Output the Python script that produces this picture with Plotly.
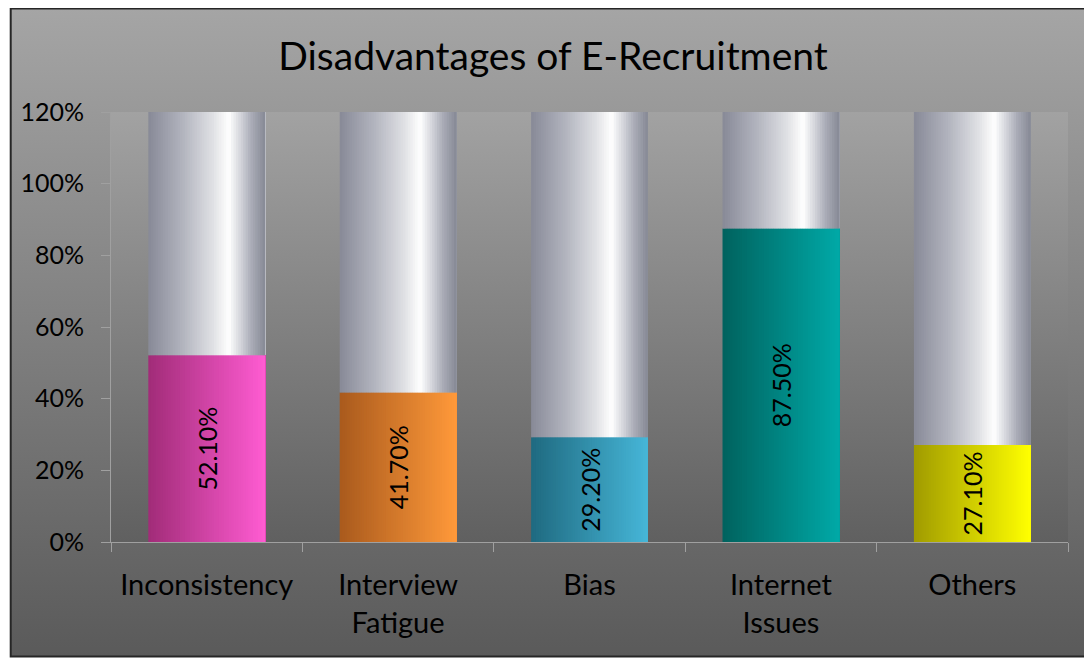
import base64
import plotly.graph_objects as go

# data
categories = ["Inconsistency", "Interview<br>Fatigue", "Bias", "Internet<br>Issues", "Others"]
values = [52.1, 41.7, 29.2, 87.5, 27.1]
axis_max = 120
tick_values = [0, 20, 40, 60, 80, 100, 120]
tick_text = ["0%", "20%", "40%", "60%", "80%", "100%", "120%"]

# left (dark) and right (light) end of the gradient on each coloured bar
dark_colors = ["#a12c78", "#a95a1d", "#1f6a80", "#00625e", "#a09b00"]
light_colors = ["#ff5cd2", "#ff993a", "#46b6d8", "#00a9a7", "#ffff00"]

# cylinder look of the grey remainder
grey_stops = [(0.0, "#878a97"), (0.3, "#b3b5bf"), (0.55, "#dfe0e4"), (0.69, "#ffffff"),
              (0.77, "#dcdde2"), (0.88, "#abadb8"), (1.0, "#868995")]

# the page body adds an 8px margin, so figure coordinates are shifted up/left by that much
SHIFT = 8
W, H = 1092, 658
L, T = 109 - SHIFT, 112 - SHIFT
R, B = W - (1068 - SHIFT), H - (542 - SHIFT)
PW, PH = W - L - R, H - T - B
BAR_W = 0.61
N_SLICES = 48
FONT = "Lato"


def hex_rgb(c):
    c = c.lstrip("#")
    return tuple(int(c[i:i + 2], 16) for i in (0, 2, 4))


def mix(c1, c2, t):
    a, b = hex_rgb(c1), hex_rgb(c2)
    return "rgb({},{},{})".format(*[round(a[k] + (b[k] - a[k]) * t) for k in range(3)])


def grey_at(t):
    for (t0, c0), (t1, c1) in zip(grey_stops[:-1], grey_stops[1:]):
        if t <= t1:
            return mix(c0, c1, (t - t0) / (t1 - t0))
    return grey_stops[-1][1]


def svg_gradient(top, bottom):
    svg = ('<svg xmlns="http://www.w3.org/2000/svg" viewBox="0 0 100 100" preserveAspectRatio="none">'
           '<defs><linearGradient id="g" x1="0" y1="0" x2="0" y2="1">'
           '<stop offset="0" stop-color="{}"/><stop offset="1" stop-color="{}"/>'
           '</linearGradient></defs><rect width="100" height="100" fill="url(#g)"/></svg>').format(top, bottom)
    return "data:image/svg+xml;base64," + base64.b64encode(svg.encode()).decode()


fig = go.Figure()

remainder = [axis_max - v for v in values]
step = BAR_W / N_SLICES
# each slice runs from its own left edge to the bar's right edge, drawn left to right
for i in range(N_SLICES):
    t = (i + 0.5) / N_SLICES
    offset = -BAR_W / 2 + i * step
    width = BAR_W - i * step
    fig.add_trace(go.Bar(x=categories, y=values, offset=offset, width=width,
                         marker=dict(color=[mix(d, l, t) for d, l in zip(dark_colors, light_colors)],
                                     line=dict(width=0)),
                         hoverinfo="skip", showlegend=False))
    fig.add_trace(go.Bar(x=categories, y=remainder, base=values, offset=offset, width=width,
                         marker=dict(color=grey_at(t), line=dict(width=0)),
                         hoverinfo="skip", showlegend=False))

# value labels
fig.add_trace(go.Bar(x=categories, y=values, width=BAR_W,
                     marker=dict(color="rgba(0,0,0,0)", line=dict(width=0)),
                     text=["{:.2f}%".format(v) for v in values], textposition="inside",
                     insidetextanchor="middle", textangle=-90,
                     textfont=dict(family=FONT, size=25, color="#000000"),
                     hoverinfo="skip", showlegend=False))


def px_x(p):
    return (p - L) / PW


def px_y(p):
    return (H - B - p) / PH


fig.update_layout(
    width=W, height=H,
    margin=dict(l=L, r=R, t=T, b=B),
    barmode="overlay",
    paper_bgcolor="white",
    plot_bgcolor="rgba(0,0,0,0)",
    font=dict(family=FONT, size=27, color="#000000"),
    title=dict(text="Disadvantages of E-Recruitment", x=(553 - SHIFT) / W, xref="container", xanchor="center",
               y=1 - (56 - SHIFT) / H, yref="container", yanchor="middle",
               font=dict(family=FONT, size=39, color="#000000")),
    images=[
        dict(source=svg_gradient("#a5a5a5", "#5a5a5a"), xref="paper", yref="paper",
             x=px_x(0), y=px_y(0), sizex=px_x(W + 20) - px_x(0), sizey=px_y(0) - px_y(649),
             xanchor="left", yanchor="top", sizing="stretch", layer="below"),
        dict(source=svg_gradient("#a2a2a2", "#606060"), xref="paper", yref="paper",
             x=0, y=1, sizex=1, sizey=1, xanchor="left", yanchor="top", sizing="stretch", layer="below"),
    ],
    shapes=[
        dict(type="rect", xref="paper", yref="paper", x0=px_x(0.5), x1=px_x(W + 20), y0=px_y(648.5), y1=px_y(0.5),
             line=dict(color="#262626", width=2), fillcolor="rgba(0,0,0,0)", layer="above"),
    ],
)

fig.update_xaxes(showline=True, linecolor="#a0a0a0", linewidth=1, ticks="outside", tickson="boundaries",
                 ticklen=9, tickcolor="#a0a0a0", showgrid=False, zeroline=False, ticklabelstandoff=17,
                 tickfont=dict(family=FONT, size=29, color="#000000"))
fig.update_yaxes(range=[0, axis_max], tickmode="array", tickvals=tick_values, ticktext=tick_text,
                 showline=True, linecolor="#a0a0a0", linewidth=1, ticks="outside", ticklen=9,
                 tickcolor="#a0a0a0", showgrid=False, zeroline=False, ticklabelstandoff=12,
                 tickfont=dict(family=FONT, size=25, color="#000000"))

fig.write_html("out.html")
